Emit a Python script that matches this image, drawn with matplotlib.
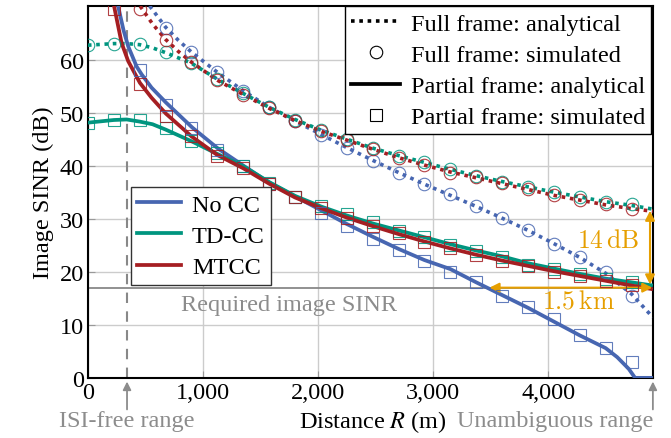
import numpy as np
import matplotlib
matplotlib.use('Agg')
import matplotlib.pyplot as plt
from matplotlib.lines import Line2D
from matplotlib.ticker import FuncFormatter

plt.rcParams['font.family'] = ['Liberation Serif', 'DejaVu Serif']
plt.rcParams['mathtext.fontset'] = 'stix'

BLUE = '#4766B1'
GREEN = '#00957F'
RED = '#A51E22'
ORANGE = '#E69F00'
GRAY = '#8C8C8C'
FS = 17.5

# simulated points (m, dB)
r_sim = [0, 225, 450, 675, 900, 1125, 1350, 1575, 1800, 2025, 2250,
         2475, 2700, 2925, 3150, 3375, 3600, 3825, 4050, 4275, 4500, 4725]
nan = np.nan
full_sim_nocc = [nan, nan, nan, 66.0, 61.4, 57.6, 54.1, 51.0, 48.5, 45.8, 43.4,
                 40.9, 38.7, 36.5, 34.6, 32.3, 30.2, 27.8, 25.3, 22.7, 19.9, 15.5]
full_sim_tdcc = [62.7, 63.0, 63.0, 61.4, 59.3, 56.3, 53.6, 51.0, 48.6, 46.7, 45.0,
                 43.3, 41.8, 40.6, 39.3, 38.0, 36.9, 36.0, 35.0, 34.0, 33.2, 32.7]
full_sim_mtcc = [nan, nan, 69.6, 63.6, 59.5, 56.1, 53.4, 50.8, 48.5, 46.5, 44.9,
                 43.1, 41.5, 40.2, 38.7, 37.8, 36.7, 35.6, 34.4, 33.5, 32.7, 31.9]
part_sim_nocc = [nan, nan, 58.0, 51.5, 47.1, 43.0, 39.9, 36.5, 34.0, 31.0, 28.6,
                 26.1, 24.1, 22.1, 20.0, 18.0, 15.5, 13.3, 11.0, 8.1, 5.6, 2.9]
part_sim_tdcc = [48.1, 48.6, 48.6, 47.0, 44.6, 42.3, 39.9, 36.8, 34.1, 32.4, 30.8,
                 29.3, 27.7, 26.5, 25.0, 23.9, 22.7, 21.3, 20.5, 19.6, 18.6, 18.1]
part_sim_mtcc = [nan, 69.5, 55.3, 49.3, 45.5, 41.8, 39.6, 36.5, 34.0, 32.0, 30.2,
                 28.6, 27.3, 25.6, 24.4, 23.1, 22.1, 21.1, 19.9, 19.2, 18.2, 17.5]

# analytical curves
r_full_nocc = [450, 540, 675, 787, 900, 1125, 1350, 1575, 1800, 2025, 2250, 2475,
               2700, 2925, 3150, 3375, 3600, 3825, 4050, 4275, 4500, 4725, 4910]
full_nocc = [73.0, 70.0, 66.1, 63.6, 61.4, 57.6, 54.1, 51.0, 48.4, 45.9, 43.4, 41.0,
             38.7, 36.5, 34.4, 32.3, 30.1, 27.8, 25.3, 22.7, 19.7, 15.8, 11.4]
r_full_tdcc = [0, 225, 337, 450, 562, 675, 900, 1125, 1350, 1575, 1800, 2025, 2250,
               2475, 2700, 2925, 3150, 3375, 3600, 3825, 4050, 4275, 4500, 4725, 4910]
full_tdcc = [62.7, 63.0, 63.0, 62.8, 62.2, 61.3, 59.3, 56.3, 53.6, 51.0, 48.7, 46.7,
             45.0, 43.3, 41.9, 40.6, 39.3, 38.1, 37.0, 36.0, 35.0, 34.1, 33.2, 32.5, 31.8]
r_full_mtcc = [400, 450, 562, 675, 787, 900, 1125, 1350, 1575, 1800, 2025, 2250,
               2475, 2700, 2925, 3150, 3375, 3600, 3825, 4050, 4275, 4500, 4725, 4910]
full_mtcc = [72.0, 70.2, 66.7, 63.8, 61.5, 59.5, 56.1, 53.4, 50.8, 48.5, 46.5, 44.8,
             43.1, 41.5, 40.1, 38.8, 37.7, 36.6, 35.5, 34.4, 33.5, 32.6, 31.9, 31.4]

r_part_nocc = [240, 263, 310, 350, 423, 467, 553, 678, 906, 1132, 1358, 1575, 1800,
               2025, 2250, 2475, 2700, 2925, 3150, 3375, 3600, 3825, 4050, 4275, 4500,
               4600, 4700, 4755, 4910]
part_nocc = [74.0, 70.0, 65.5, 62.5, 58.7, 57.2, 54.7, 51.9, 47.2, 43.2, 39.9, 36.8,
             34.2, 31.6, 29.0, 26.6, 24.3, 22.2, 20.5, 18.0, 15.6, 13.2, 10.6, 8.0,
             5.6, 3.9, 1.7, 0.0, 0.0]
r_part_tdcc = [0, 225, 337, 450, 562, 675, 900, 1125, 1350, 1575, 1800, 2025, 2250,
               2475, 2700, 2925, 3150, 3375, 3600, 3825, 4050, 4275, 4500, 4725, 4910]
part_tdcc = [48.1, 48.6, 48.7, 48.3, 47.8, 46.8, 44.6, 42.2, 39.9, 36.9, 34.3, 32.3,
             30.6, 29.1, 27.8, 26.5, 25.2, 24.0, 22.9, 21.6, 20.6, 19.6, 18.7, 18.0, 17.4]
r_part_mtcc = [205, 228, 293, 350, 452, 553, 678, 901, 1125, 1350, 1575, 1800, 2025,
               2250, 2475, 2700, 2925, 3150, 3375, 3600, 3825, 4050, 4275, 4500, 4725, 4910]
part_mtcc = [74.0, 70.0, 63.1, 59.7, 55.6, 52.8, 49.8, 45.5, 42.0, 39.5, 36.6, 34.0,
             32.0, 30.2, 28.6, 27.1, 25.7, 24.4, 23.2, 22.1, 21.1, 20.1, 19.2, 18.3, 17.4, 16.7]

r_isi = 340
r_unamb = 4910
sinr_req = 17

fig = plt.figure(figsize=(6.71, 4.39), dpi=100)
ax = fig.add_axes([0.131, 0.137, 0.842, 0.846])

ax.grid(True, color='#cccccc', lw=1.0)
ax.set_axisbelow(True)

ax.axhline(sinr_req, color='#888888', lw=1.3, zorder=1)
ax.axvline(r_isi, color='#888888', lw=1.5, dashes=(5, 4), zorder=1)

dot = dict(lw=2.6, dashes=(1, 1.3))
for r, v, c in [(r_full_nocc, full_nocc, BLUE), (r_full_tdcc, full_tdcc, GREEN),
                (r_full_mtcc, full_mtcc, RED)]:
    ax.plot(r, v, color=c, **dot, zorder=3)
for r, v, c in [(r_part_nocc, part_nocc, BLUE), (r_part_tdcc, part_tdcc, GREEN),
                (r_part_mtcc, part_mtcc, RED)]:
    ax.plot(r, v, color=c, lw=2.7, solid_capstyle='butt', zorder=3)

mk = dict(ls='none', mfc='none', ms=9, mew=0.8, alpha=0.85, zorder=4)
for v, c in [(full_sim_nocc, BLUE), (full_sim_tdcc, GREEN), (full_sim_mtcc, RED)]:
    ax.plot(r_sim, v, marker='o', mec=c, **mk)
for v, c in [(part_sim_nocc, BLUE), (part_sim_tdcc, GREEN), (part_sim_mtcc, RED)]:
    ax.plot(r_sim, v, marker='s', mec=c, **mk)

ax.set_xlim(0, r_unamb)
ax.set_ylim(0, 70)
ax.set_xticks([0, 1000, 2000, 3000, 4000])
ax.set_yticks([0, 10, 20, 30, 40, 50, 60])
ax.xaxis.set_major_formatter(FuncFormatter(lambda v, p: f'{int(v):,}'))
ax.tick_params(direction='in', length=5, color='#999999', labelsize=FS, pad=3)
for s in ax.spines.values():
    s.set_linewidth(1.5)
ax.set_ylabel('Image SINR (dB)', fontsize=FS, labelpad=4)

# annotations
ax.annotate('', xy=(4885, 31.5), xytext=(4885, 17.6),
            arrowprops=dict(arrowstyle='<|-|>', color=ORANGE, lw=1.5,
                            mutation_scale=14, shrinkA=0, shrinkB=0))
ax.text(4796, 25.8, r'$14\,\mathrm{dB}$', color=ORANGE, fontsize=18.5,
        math_fontfamily='cm', ha='right', va='center')
ax.annotate('', xy=(3490, sinr_req), xytext=(4905, sinr_req),
            arrowprops=dict(arrowstyle='<|-|>', color=ORANGE, lw=1.5,
                            mutation_scale=14, shrinkA=0, shrinkB=0))
ax.text(4265, 14.4, r'$1.5\,\mathrm{km}$', color=ORANGE, fontsize=18.5,
        math_fontfamily='cm', ha='center', va='center')
ax.text(1746, 13.9, 'Required image SINR', color=GRAY, fontsize=FS,
        ha='center', va='center')

tr = ax.get_xaxis_transform()
for xr in (r_isi, r_unamb):
    ax.annotate('', xy=(xr, -0.01), xytext=(xr, -0.085), xycoords=tr, textcoords=tr,
                arrowprops=dict(arrowstyle='-|>', color=GRAY, lw=1.3,
                                mutation_scale=12, shrinkA=0, shrinkB=0),
                annotation_clip=False)
ax.text(r_isi, -0.116, 'ISI-free range', transform=tr, color=GRAY, fontsize=FS,
        ha='center', va='center')
ax.text(r_unamb, -0.116, 'Unambiguous range', transform=tr, color=GRAY, fontsize=FS,
        ha='right', va='center')
ax.text(0.505, -0.116, 'Distance $R$ (m)', transform=ax.transAxes, fontsize=FS,
        ha='center', va='center')

# legends
h1 = [Line2D([], [], color='k', **dot),
      Line2D([], [], color='k', marker='o', ls='none', mfc='none', ms=9, mew=0.8),
      Line2D([], [], color='k', lw=2.7),
      Line2D([], [], color='k', marker='s', ls='none', mfc='none', ms=9, mew=0.8)]
l1 = ax.legend(h1, ['Full frame: analytical', 'Full frame: simulated',
                    'Partial frame: analytical', 'Partial frame: simulated'],
               loc='upper right', bbox_to_anchor=(0.997, 1.0), borderaxespad=0,
               fontsize=FS, fancybox=False, framealpha=1, edgecolor='k',
               handlelength=2.0, handletextpad=0.45, labelspacing=0.38,
               borderpad=0.25)
l1.get_frame().set_linewidth(1.0)
ax.add_artist(l1)
h2 = [Line2D([], [], color=c, lw=2.7) for c in (BLUE, GREEN, RED)]
l2 = ax.legend(h2, ['No CC', 'TD-CC', 'MTCC'], loc='lower left',
               bbox_to_anchor=(0.0756, 0.251), borderaxespad=0, fontsize=FS,
               fancybox=False, framealpha=1, edgecolor='#333333',
               handlelength=1.8, handletextpad=0.45, labelspacing=0.38, borderpad=0.27)
l2.get_frame().set_linewidth(1.0)

fig.savefig('out.png', dpi=100)
